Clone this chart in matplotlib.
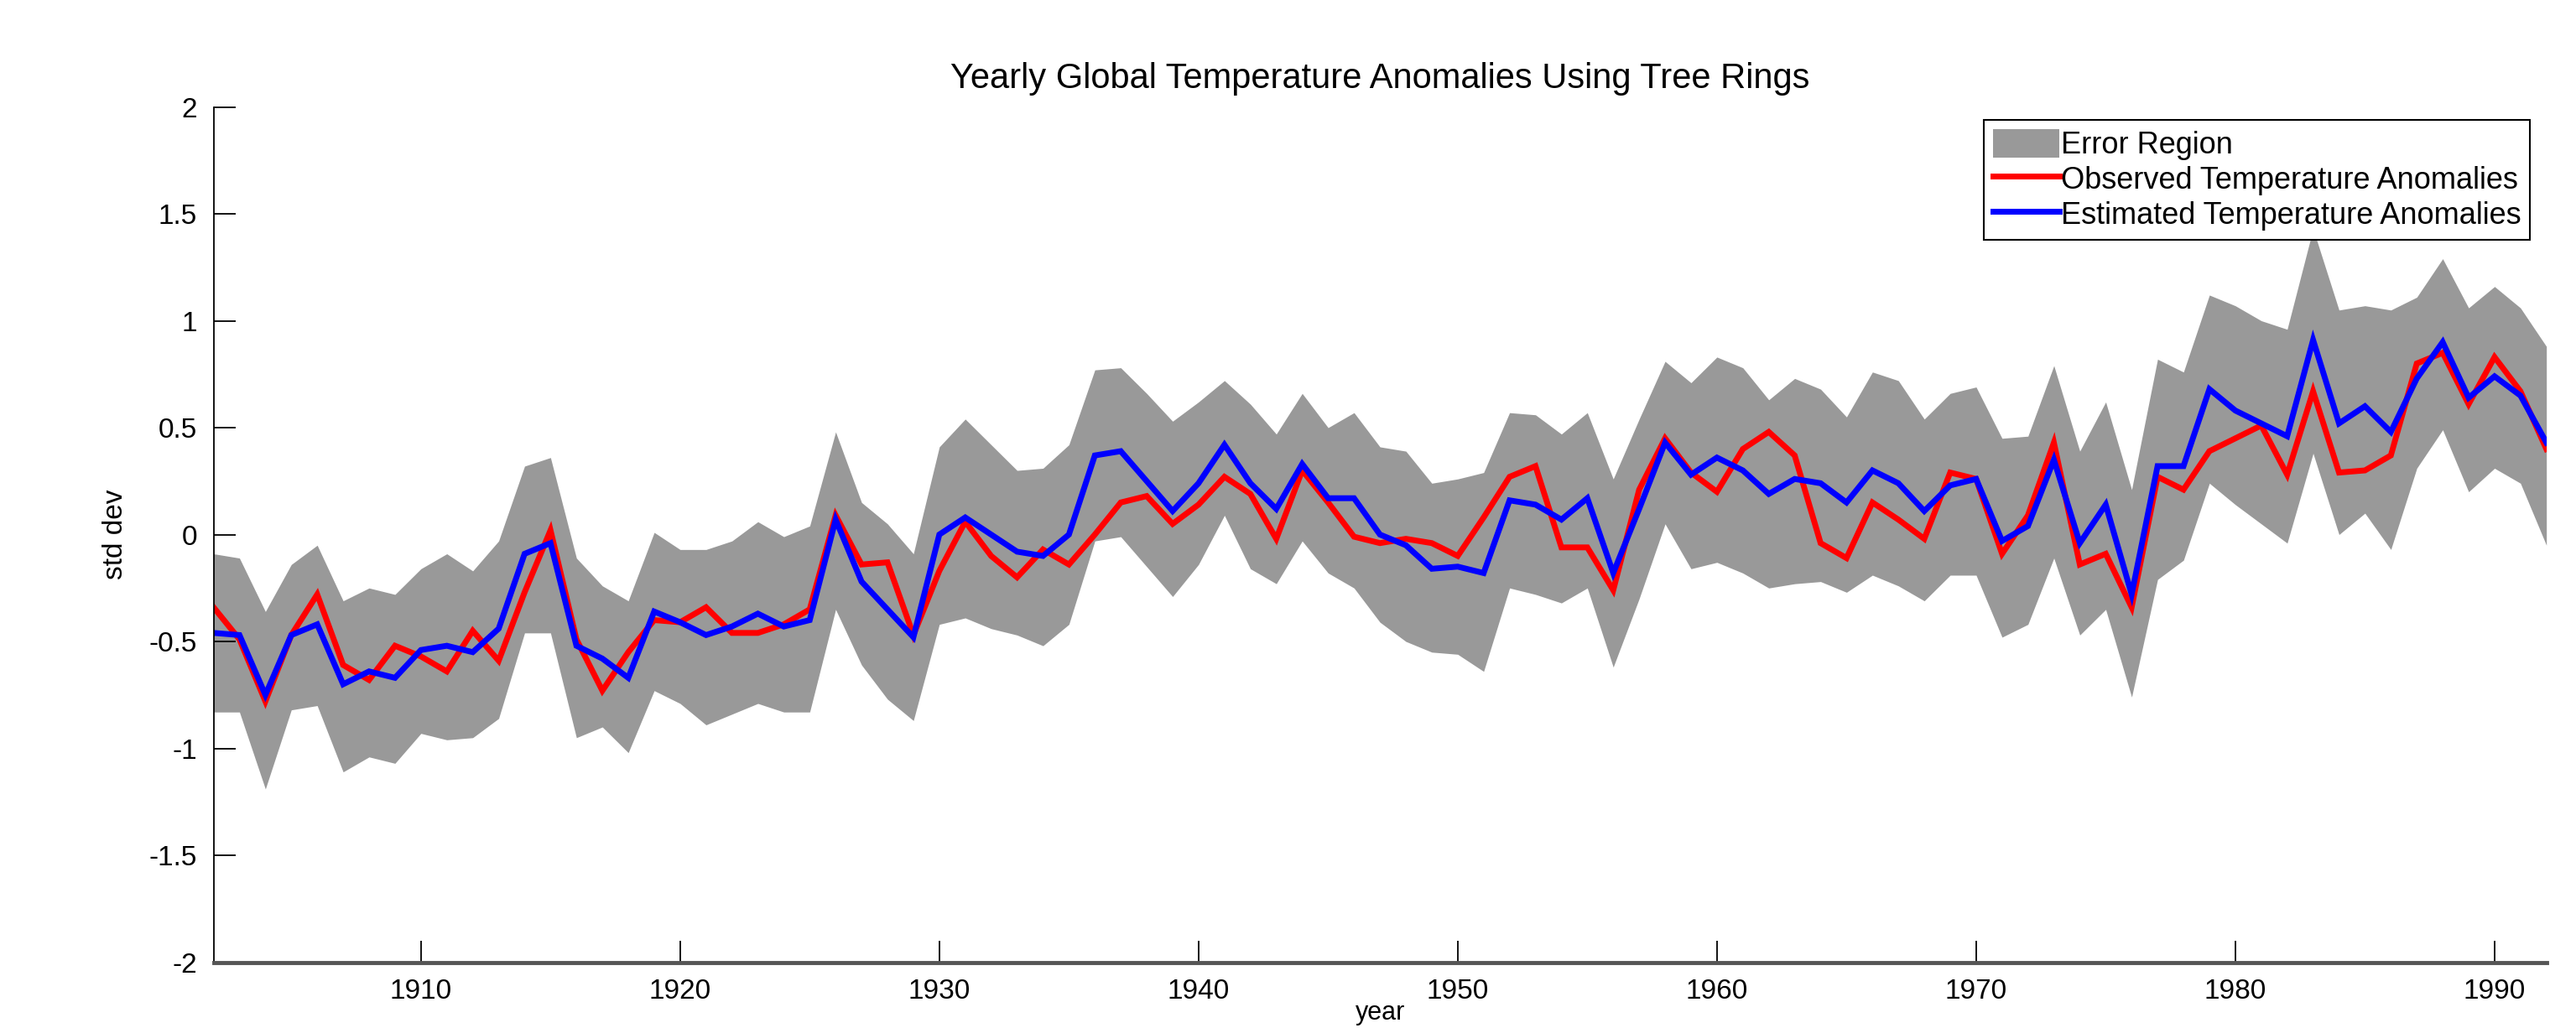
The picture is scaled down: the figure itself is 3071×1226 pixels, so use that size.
import matplotlib
matplotlib.use("Agg")
import matplotlib.pyplot as plt
from matplotlib.patches import Patch
from matplotlib.lines import Line2D

# yearly values
years = list(range(1902, 1993))

observed = [
    -0.34, -0.49, -0.78, -0.47, -0.28, -0.61, -0.68, -0.52,           # 1902-09
    -0.57, -0.64, -0.45, -0.59, -0.27, 0.02, -0.49, -0.73, -0.55, -0.40,  # 1910-19
    -0.41, -0.34, -0.46, -0.46, -0.42, -0.35, 0.09, -0.14, -0.13, -0.47,  # 1920-29
    -0.17, 0.06, -0.10, -0.20, -0.07, -0.14, 0.00, 0.15, 0.18, 0.05,      # 1930-39
    0.14, 0.27, 0.19, -0.02, 0.30, 0.15, -0.01, -0.04, -0.02, -0.04,      # 1940-49
    -0.10, 0.08, 0.27, 0.32, -0.06, -0.06, -0.26, 0.21, 0.45, 0.29,       # 1950-59
    0.20, 0.40, 0.48, 0.37, -0.04, -0.11, 0.15, 0.07, -0.02, 0.29,        # 1960-69
    0.26, -0.09, 0.09, 0.43, -0.14, -0.09, -0.34, 0.27, 0.21, 0.39,       # 1970-79
    0.45, 0.51, 0.28, 0.67, 0.29, 0.30, 0.37, 0.80, 0.85, 0.61,           # 1980-89
    0.83, 0.67, 0.40,                                                     # 1990-92
]

estimated = [
    -0.46, -0.47, -0.75, -0.47, -0.42, -0.70, -0.64, -0.67,
    -0.54, -0.52, -0.55, -0.44, -0.09, -0.04, -0.52, -0.58, -0.67, -0.36,
    -0.41, -0.47, -0.43, -0.37, -0.43, -0.40, 0.07, -0.22, -0.35, -0.48,
    0.00, 0.08, 0.00, -0.08, -0.10, 0.00, 0.37, 0.39, 0.25, 0.11,
    0.24, 0.42, 0.24, 0.12, 0.33, 0.17, 0.17, 0.00, -0.05, -0.16,
    -0.15, -0.18, 0.16, 0.14, 0.07, 0.17, -0.18, 0.12, 0.43, 0.28,
    0.36, 0.30, 0.19, 0.26, 0.24, 0.15, 0.30, 0.24, 0.11, 0.23,
    0.26, -0.03, 0.04, 0.35, -0.04, 0.14, -0.28, 0.32, 0.32, 0.68,
    0.58, 0.52, 0.46, 0.91, 0.52, 0.60, 0.48, 0.73, 0.90, 0.64,
    0.74, 0.65, 0.43,
]

err_upper = [
    -0.09, -0.11, -0.36, -0.14, -0.05, -0.31, -0.25, -0.28,
    -0.16, -0.09, -0.17, -0.03, 0.32, 0.36, -0.11, -0.24, -0.31, 0.01,
    -0.07, -0.07, -0.03, 0.06, -0.01, 0.04, 0.48, 0.15, 0.05, -0.09,
    0.41, 0.54, 0.42, 0.30, 0.31, 0.42, 0.77, 0.78, 0.66, 0.53,
    0.62, 0.72, 0.61, 0.47, 0.66, 0.50, 0.57, 0.41, 0.39, 0.24,
    0.26, 0.29, 0.57, 0.56, 0.47, 0.57, 0.26, 0.54, 0.81, 0.71,
    0.83, 0.78, 0.63, 0.73, 0.68, 0.55, 0.76, 0.72, 0.54, 0.66,
    0.69, 0.45, 0.46, 0.79, 0.39, 0.62, 0.21, 0.82, 0.76, 1.12,
    1.07, 1.00, 0.96, 1.43, 1.05, 1.07, 1.05, 1.11, 1.29, 1.06,
    1.16, 1.06, 0.88,
]

err_lower = [
    -0.83, -0.83, -1.19, -0.82, -0.80, -1.11, -1.04, -1.07,
    -0.93, -0.96, -0.95, -0.86, -0.46, -0.46, -0.95, -0.90, -1.02, -0.73,
    -0.79, -0.89, -0.84, -0.79, -0.83, -0.83, -0.35, -0.61, -0.77, -0.87,
    -0.42, -0.39, -0.44, -0.47, -0.52, -0.42, -0.03, -0.01, -0.15, -0.29,
    -0.14, 0.09, -0.16, -0.23, -0.03, -0.18, -0.25, -0.41, -0.50, -0.55,
    -0.56, -0.64, -0.25, -0.28, -0.32, -0.25, -0.62, -0.30, 0.05, -0.16,
    -0.13, -0.18, -0.25, -0.23, -0.22, -0.27, -0.19, -0.24, -0.31, -0.19,
    -0.19, -0.48, -0.42, -0.11, -0.47, -0.35, -0.76, -0.21, -0.12, 0.24,
    0.14, 0.05, -0.04, 0.38, 0.00, 0.10, -0.07, 0.31, 0.49, 0.20,
    0.31, 0.24, -0.05,
]

xticks = [1910, 1920, 1930, 1940, 1950, 1960, 1970, 1980, 1990]
yticks = [-2, -1.5, -1, -0.5, 0, 0.5, 1, 1.5, 2]
ytick_labels = ["-2", "-1.5", "-1", "-0.5", "0", "0.5", "1", "1.5", "2"]

# MATLAB-ish look: Arial metrics via Liberation Sans
plt.rcParams["font.family"] = ["Liberation Sans", "DejaVu Sans"]

fig = plt.figure(figsize=(30.71, 12.26), dpi=100)
ax = fig.add_axes([0.0829, 0.064, 0.9056, 0.832])

ax.fill_between(years, err_lower, err_upper, color="#999999", linewidth=0)
ax.plot(years, observed, color="#ff0000", lw=5, solid_joinstyle="miter")
ax.plot(years, estimated, color="#0000ff", lw=5, solid_joinstyle="miter")

ax.set_xlim(1902, 1992)
ax.set_ylim(-2, 2)
ax.set_xticks(xticks)
ax.set_xticklabels([str(t) for t in xticks], fontsize=24)
ax.set_yticks(yticks)
ax.set_yticklabels(ytick_labels, fontsize=24)
ax.tick_params(direction="in", length=19, width=1.3, pad=14)

for s in ("top", "right"):
    ax.spines[s].set_visible(False)
ax.spines["left"].set_linewidth(1.3)
ax.spines["bottom"].set_color("#555555")
ax.spines["bottom"].set_linewidth(3.5)

ax.set_title("Yearly Global Temperature Anomalies Using Tree Rings",
             fontsize=30, pad=16)
ax.set_ylabel("std dev", fontsize=24, labelpad=18)
# the reference has "year" squeezed against the bottom edge
ax.set_xlabel("year", fontsize=22, va="bottom")
ax.xaxis.set_label_coords(0.5, -0.074)

handles = [
    Patch(facecolor="#999999", edgecolor="none", label="Error Region"),
    Line2D([], [], color="#ff0000", lw=5, label="Observed Temperature Anomalies"),
    Line2D([], [], color="#0000ff", lw=5, label="Estimated Temperature Anomalies"),
]
leg = ax.legend(handles=handles, loc="upper right", bbox_to_anchor=(0.993, 0.985),
                prop={"size": 26}, fancybox=False, framealpha=1,
                edgecolor="black", handlelength=2.2, handleheight=1.1,
                handletextpad=0.05, labelspacing=0.12, borderpad=0.3,
                borderaxespad=0)
leg.get_frame().set_linewidth(1.5)

fig.savefig("out.png", dpi=100, facecolor="white")
